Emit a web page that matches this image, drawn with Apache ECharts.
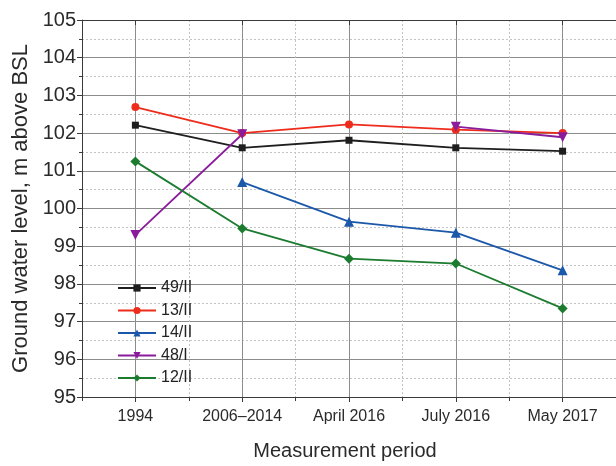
<!DOCTYPE html>
<html>
<head>
<meta charset="utf-8">
<script src="https://cdn.jsdelivr.net/npm/echarts@6/dist/echarts.min.js"></script>
<style>html,body{margin:0;padding:0;background:#fff}#c{width:616px;height:466px}</style>
</head>
<body>
<div id="c"></div>
<script>
const categories = ['1994', '2006\u20132014', 'April 2016', 'July 2016', 'May 2017'];
const s49II = [102.21, 101.61, 101.81, 101.61, 101.52];
const s13II = [102.69, 102.00, 102.23, 102.09, 102.00];
const s14II = [null, 100.70, 99.65, 99.36, 98.36];
const s48I  = [99.30, 101.97, null, 102.17, 101.89];
const s12II = [101.25, 99.47, 98.67, 98.54, 97.35];
const seriesNames = ['49/II', '13/II', '14/II', '48/I', '12/II'];

const reg = "'Liberation Sans',Arial,sans-serif";
const axisCol = '#3a3a3a';

function mk(name, data, color, symbol, size) {
  return {
    name: name, type: 'line', data: data, xAxisIndex: 0, yAxisIndex: 0,
    symbol: symbol, symbolSize: size, showSymbol: true,
    lineStyle: {color: color, width: 1.8},
    itemStyle: {color: color},
    connectNulls: false, animation: false
  };
}

const chart = echarts.init(document.getElementById('c'), null, {renderer: 'canvas'});
chart.setOption({
  animation: false,
  backgroundColor: '#fff',
  grid: {left: 82, top: 20, bottom: 63, right: -7, containLabel: false},
  legend: {
    orient: 'vertical', left: 112, top: 275,
    itemWidth: 38, itemHeight: 9, itemGap: 6.5,
    textStyle: {fontFamily: reg, fontSize: 16, color: '#222'},
    data: seriesNames
  },
  xAxis: [
    {
      type: 'category', data: categories, position: 'bottom', boundaryGap: true,
      axisLine: {show: true, lineStyle: {color: axisCol, width: 1}},
      axisTick: {show: true, alignWithLabel: true, length: 5, lineStyle: {color: axisCol}},
      axisLabel: {fontFamily: reg, fontSize: 16, color: '#2a2a2a', margin: 12, interval: 0},
      splitLine: {show: true, alignWithLabel: true, lineStyle: {color: '#8c8c8c', width: 1}},
      name: 'Measurement period', nameLocation: 'middle', nameGap: 44,
      nameTextStyle: {fontFamily: reg, fontSize: 20, color: '#2a2a2a', padding: [0, 8, 0, 0]}
    },
    {
      type: 'category', data: categories, position: 'bottom', boundaryGap: true,
      axisLine: {show: false},
      axisTick: {show: true, length: 4, lineStyle: {color: axisCol}},
      axisLabel: {show: false},
      splitLine: {show: true, lineStyle: {color: '#c4c4c4', width: 1, type: [2, 2]}}
    },
    {
      type: 'category', data: categories, position: 'top', boundaryGap: true,
      axisLine: {show: true, lineStyle: {color: axisCol, width: 1}},
      axisTick: {show: true, inside: true, alignWithLabel: true, length: 5, lineStyle: {color: axisCol}},
      axisLabel: {show: false},
      splitLine: {show: false}
    }
  ],
  yAxis: {
    type: 'value', min: 95, max: 105, interval: 1,
    axisLine: {show: true, lineStyle: {color: axisCol, width: 1}},
    axisTick: {show: true, length: 5, lineStyle: {color: axisCol}},
    minorTick: {show: true, splitNumber: 2, length: 3, lineStyle: {color: axisCol}},
    axisLabel: {fontFamily: reg, fontSize: 20, color: '#2a2a2a', margin: 6},
    splitLine: {show: true, lineStyle: {color: '#8c8c8c', width: 1}},
    minorSplitLine: {show: true, lineStyle: {color: '#c4c4c4', width: 1, type: [2, 2]}},
    name: 'Ground water level, m above BSL', nameLocation: 'middle', nameGap: 47, nameRotate: 90,
    nameTextStyle: {fontFamily: reg, fontSize: 22, color: '#2a2a2a'}
  },
  series: [
    mk('49/II', s49II, '#1e1e1e', 'rect', 7),
    mk('13/II', s13II, '#ee2c1c', 'circle', 8),
    mk('14/II', s14II, '#1c58aa', 'triangle', 10),
    mk('48/I', s48I, '#8a1c9c', 'path://M0,0 L10,0 L5,9 Z', 10),
    mk('12/II', s12II, '#1b7b2e', 'diamond', 10)
  ]
});
</script>
</body>
</html>
